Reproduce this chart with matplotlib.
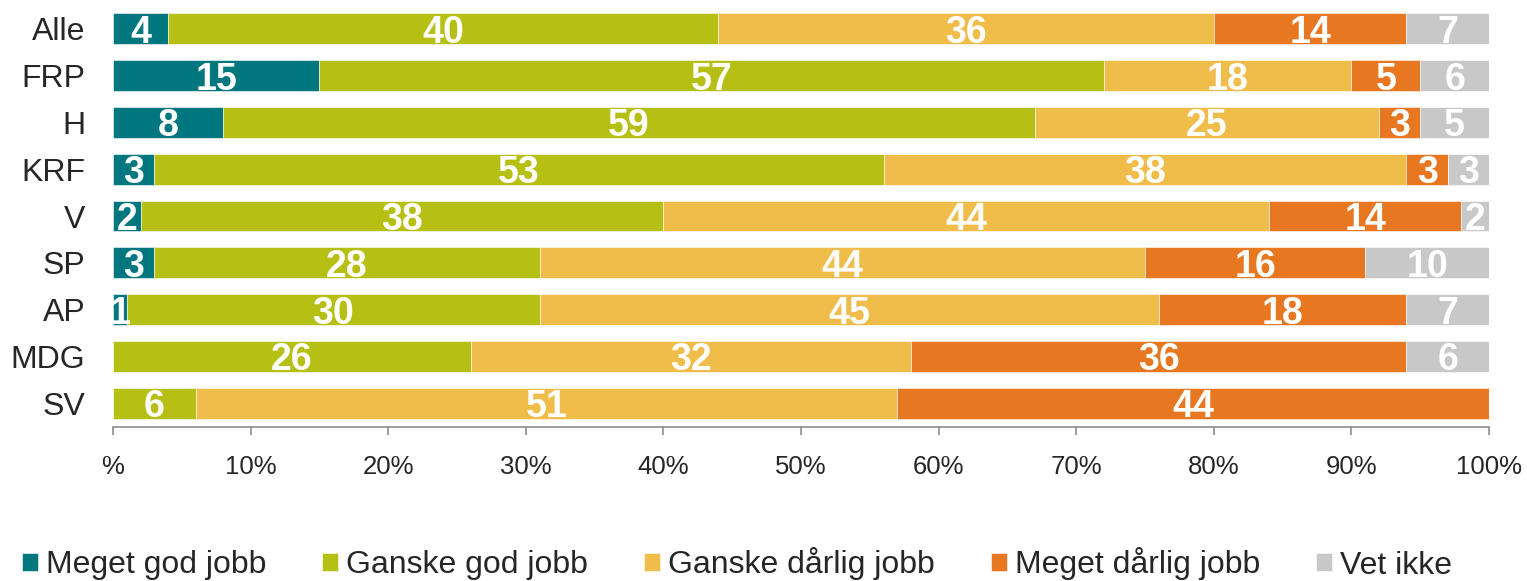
import matplotlib.pyplot as plt
import numpy as np

categories = ['Alle', 'FRP', 'H', 'KRF', 'V', 'SP', 'AP', 'MDG', 'SV']
series_names = ['Meget god jobb', 'Ganske god jobb', 'Ganske dårlig jobb',
                'Meget dårlig jobb', 'Vet ikke']
meget_god = [4, 15, 8, 3, 2, 3, 1, 0, 0]
ganske_god = [40, 57, 59, 53, 38, 28, 30, 26, 6]
ganske_darlig = [36, 18, 25, 38, 44, 44, 45, 32, 51]
meget_darlig = [14, 5, 3, 3, 14, 16, 18, 36, 44]
vet_ikke = [7, 6, 5, 3, 2, 10, 7, 6, 0]
tick_labels = ['%', '10%', '20%', '30%', '40%', '50%', '60%', '70%', '80%',
               '90%', '100%']

colors = ['#00777F', '#B6BF14', '#F0BC4A', '#E87722', '#C8C8C8']
text_color = '#262626'

plt.rcParams['font.family'] = ['Liberation Sans', 'DejaVu Sans']

fig = plt.figure(figsize=(15.27, 5.81), dpi=100)
ax = fig.add_axes([113 / 1527, 1 - 427 / 581, 1376 / 1527, 422 / 581])

y = np.arange(len(categories))
left = np.zeros(len(categories))
all_series = [meget_god, ganske_god, ganske_darlig, meget_darlig, vet_ikke]
for name, vals, col in zip(series_names, all_series, colors):
    vals = np.array(vals, dtype=float)
    ax.barh(y, vals, left=left, height=0.66, color=col, label=name,
            edgecolor='white', linewidth=0.4)
    for i, v in enumerate(vals):
        if v > 0:
            a = left[i]
            b = min(left[i] + v, 100)
            ax.text((a + b) / 2, y[i], f'{int(v)}', ha='center',
                    va='center_baseline', color='white', fontsize=27,
                    fontweight='bold')
    left += vals

ax.set_xlim(0, 100)
ax.set_ylim(len(categories) - 0.49, -0.51)
ax.set_yticks(y)
ax.set_yticklabels(categories, fontsize=23, color=text_color)
ax.tick_params(axis='y', length=0, pad=20)
ax.set_xticks(np.arange(0, 101, 10))
ax.set_xticklabels(tick_labels, fontsize=18.5, color=text_color)
ax.tick_params(axis='x', direction='out', length=6, width=1.2,
               color='#8C8C8C', pad=14)

for s in ['top', 'right', 'left']:
    ax.spines[s].set_visible(False)
ax.spines['bottom'].set_color('#8C8C8C')
ax.spines['bottom'].set_linewidth(1.2)

fig.legend(loc='center left', bbox_to_anchor=(22 / 1527, 1 - 564 / 581),
           ncol=5, frameon=False, handlelength=0.5, handleheight=0.5,
           handletextpad=0.25, columnspacing=1.75, borderaxespad=0,
           borderpad=0, fontsize=23, labelcolor=text_color)

fig.savefig('out.png', dpi=100)
